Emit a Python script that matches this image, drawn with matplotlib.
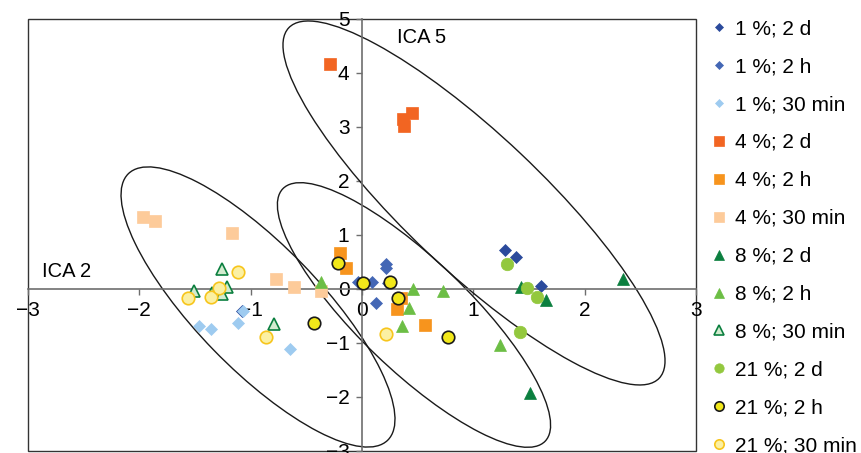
import matplotlib
matplotlib.use("Agg")
import matplotlib.pyplot as plt
from matplotlib.patches import Ellipse, Rectangle
from matplotlib.transforms import Affine2D

plt.rcParams['font.family'] = ['Liberation Sans', 'DejaVu Sans']

# series: (label, x values, y values)
x_1_2d = [1.28, 1.38, 1.61, -1.08]
y_1_2d = [0.72, 0.59, 0.06, -0.41]
x_1_2h = [-0.04, 0.09, 0.22, 0.22, 0.13, 0.23]
y_1_2h = [0.13, 0.13, 0.46, 0.39, -0.26, 0.11]
x_1_30 = [-1.46, -1.36, -1.11, -1.07, -0.65]
y_1_30 = [-0.69, -0.74, -0.63, -0.41, -1.11]
x_4_2d = [-0.29, 0.37, 0.38, 0.45]
y_4_2d = [4.17, 3.15, 3.02, 3.26]
x_4_2h = [-0.20, -0.14, 0.35, 0.31, 0.57]
y_4_2h = [0.67, 0.39, -0.17, -0.37, -0.67]
x_4_30 = [-1.97, -1.86, -1.17, -0.77, -0.61, -0.37]
y_4_30 = [1.33, 1.26, 1.04, 0.19, 0.04, -0.04]
x_8_2d = [2.34, 1.43, 1.65, 1.51]
y_8_2d = [0.19, 0.04, -0.20, -1.93]
x_8_2h = [-0.37, 0.46, 0.73, 0.42, 0.36, 1.24]
y_8_2h = [0.13, 0.00, -0.04, -0.35, -0.69, -1.04]
x_8_30 = [-1.26, -1.51, -1.35, -1.21, -1.26, -0.79]
y_8_30 = [0.37, -0.04, -0.07, 0.04, -0.09, -0.65]
x_21_2d = [1.30, 1.48, 1.57, 1.42]
y_21_2d = [0.46, 0.02, -0.15, -0.80]
x_21_2h = [-0.22, 0.01, 0.25, 0.32, -0.43, 0.77]
y_21_2h = [0.48, 0.11, 0.13, -0.17, -0.63, -0.89]
x_21_30 = [-1.11, -1.56, -1.36, -1.28, -0.86, 0.22]
y_21_30 = [0.31, -0.17, -0.15, 0.02, -0.89, -0.83]

series = [
    ("1 %; 2 d", x_1_2d, y_1_2d, "D", 6, "#2b4a9c", "#2b4a9c"),
    ("1 %; 2 h", x_1_2h, y_1_2h, "D", 6, "#4467b5", "#4467b5"),
    ("1 %; 30 min", x_1_30, y_1_30, "D", 6, "#9ecbf0", "#9ecbf0"),
    ("4 %; 2 d", x_4_2d, y_4_2d, "s", 9, "#f26522", "#f26522"),
    ("4 %; 2 h", x_4_2h, y_4_2h, "s", 9, "#f7941d", "#f7941d"),
    ("4 %; 30 min", x_4_30, y_4_30, "s", 9, "#fdcb9a", "#fdcb9a"),
    ("8 %; 2 d", x_8_2d, y_8_2d, "^", 9, "#0b7f3f", "#0b7f3f"),
    ("8 %; 2 h", x_8_2h, y_8_2h, "^", 9, "#6cbe45", "#6cbe45"),
    ("8 %; 30 min", x_8_30, y_8_30, "^", 9, "#d3ebcf", "#0b7f3f"),
    ("21 %; 2 d", x_21_2d, y_21_2d, "o", 9, "#93c83e", "#93c83e"),
    ("21 %; 2 h", x_21_2h, y_21_2h, "o", 9, "#f2e81a", "#1a1a1a"),
    ("21 %; 30 min", x_21_30, y_21_30, "o", 9, "#fbf0a3", "#f7c51c"),
]

# group ellipses: centre (data), full width/height in x-units, angle
ellipses = [
    ((1.006, 1.593), 4.58, 1.22, -43.4),
    ((0.467, -0.481), 3.27, 0.99, -43.9),
    ((-0.934, -0.333), 3.34, 1.11, -45.8),
]

fig = plt.figure(figsize=(8.61, 4.53), dpi=100)
ax = fig.add_axes([28 / 861, 2 / 453, 668 / 861, 432 / 453])
ax.set_xlim(-3, 3)
ax.set_ylim(-3, 5)

for lab, xs, ys, m, ms, fc, ec in series:
    ax.plot(xs, ys, ls="none", marker=m, ms=ms, mfc=fc, mec=ec,
            mew=1.2 if fc != ec else 0.5, label=lab, zorder=3)

k = (432 / 8) / (668 / 6)   # y px per unit / x px per unit
iso = Affine2D().scale(1, 1 / k) + ax.transData
for (cx, cy), w, h, ang in ellipses:
    ax.add_patch(Ellipse((cx, cy * k), w, h, angle=ang, transform=iso,
                         fill=False, ec="#1a1a1a", lw=1.0, zorder=2))

ax.text(0.31, 4.65, "ICA 5", fontsize=14.5, va="center")
ax.text(-2.875, 0.33, "ICA 2", fontsize=14.5, va="center")

for s in ("top", "right"):
    ax.spines[s].set_visible(False)
for s in ("left", "bottom"):
    ax.spines[s].set_position(("data", 0))
    ax.spines[s].set_color("#6e6e6e")
    ax.spines[s].set_linewidth(1.2)
ax.set_xticks(range(-3, 4))
ax.set_yticks(range(-3, 6))
ax.tick_params(direction="out", length=4, width=1.0, color="#6e6e6e",
               labelsize=15, pad=5)
ax.add_patch(Rectangle((0, 0), 1, 1, transform=ax.transAxes, fill=False,
                       ec="#333333", lw=1.0, clip_on=False, zorder=1))

fig.legend(loc="upper left", bbox_to_anchor=(0.808, 0.99), frameon=False,
           fontsize=15, markerscale=0.75, handlelength=0.8,
           handletextpad=0.4, labelspacing=0.91, borderpad=0.2)

fig.savefig("out.png", dpi=100)
